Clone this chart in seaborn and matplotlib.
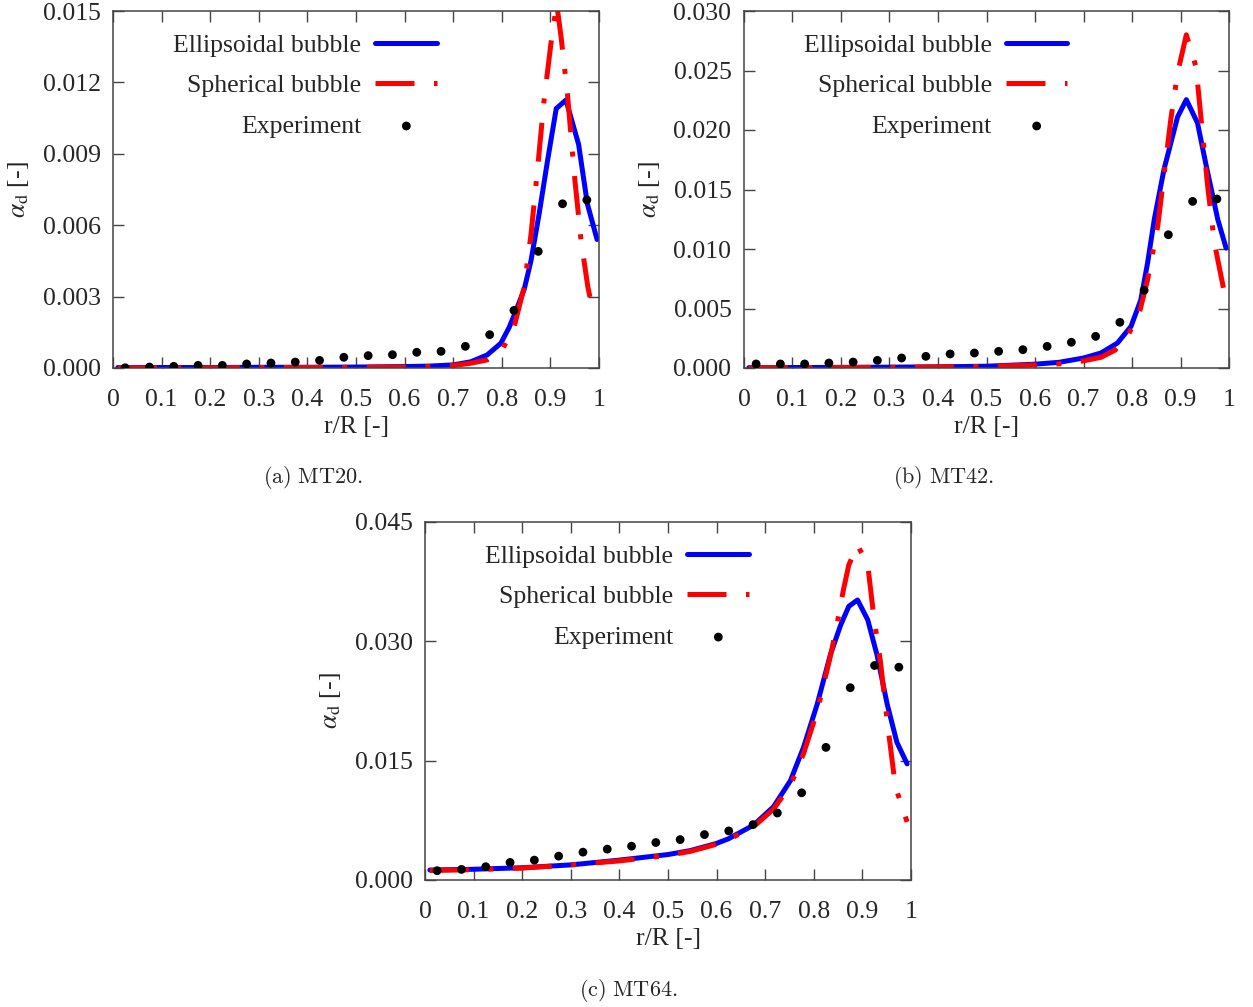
import numpy as np
import pandas as pd
import matplotlib
matplotlib.use("Agg")
import matplotlib.pyplot as plt
from matplotlib.font_manager import FontProperties
import seaborn as sns

# experiment radial positions (same for all three cases)
r_exp = [0.025, 0.075, 0.125, 0.175, 0.225, 0.275, 0.325, 0.375, 0.425, 0.475,
         0.525, 0.575, 0.625, 0.675, 0.725, 0.775, 0.825, 0.875, 0.925, 0.975]

# MT20
mt20_exp = [0.00001, 0.00004, 0.00007, 0.00011, 0.00011, 0.00017, 0.00021, 0.00025, 0.00032, 0.00045,
            0.00052, 0.00056, 0.00066, 0.00070, 0.00091, 0.00140, 0.00242, 0.00490, 0.00690, 0.00706]
mt20_ell_r = [0.01, 0.1, 0.2, 0.3, 0.4, 0.5, 0.6, 0.65, 0.7, 0.736, 0.77, 0.798, 0.815, 0.829,
              0.846, 0.86, 0.877, 0.894, 0.912, 0.932, 0.958, 0.976, 0.996]
mt20_ell = [0.00002, 0.00002, 0.00002, 0.00003, 0.00003, 0.00004, 0.00006, 0.00008, 0.00013, 0.00026,
            0.00055, 0.00104, 0.0017, 0.0024, 0.0033, 0.0045, 0.0065, 0.0087, 0.0109, 0.01126,
            0.0094, 0.0069, 0.0054]
mt20_sph_r = [0.01, 0.1, 0.2, 0.3, 0.4, 0.5, 0.6, 0.65, 0.7, 0.736, 0.77, 0.801, 0.825,
              0.846, 0.86, 0.874, 0.887, 0.901, 0.913, 0.922, 0.935, 0.949, 0.963, 0.977, 0.987]
mt20_sph = [0.00001, 0.00001, 0.00001, 0.00002, 0.00002, 0.00003, 0.00004, 0.00006, 0.0001, 0.0002,
            0.00034, 0.00078, 0.0017, 0.0034, 0.0056, 0.00846, 0.01126, 0.01362, 0.0153,
            0.0139, 0.01153, 0.00817, 0.00537, 0.00341, 0.00243]

# MT42
mt42_exp = [0.00034, 0.00034, 0.00034, 0.00042, 0.0005, 0.00064, 0.00084, 0.00098, 0.00118, 0.00126,
            0.0014, 0.00154, 0.00182, 0.00216, 0.00266, 0.00384, 0.00653, 0.0112, 0.0140, 0.0142]
mt42_ell_r = [0.01, 0.1, 0.2, 0.3, 0.4, 0.5, 0.6, 0.65, 0.7, 0.736, 0.77, 0.798, 0.818, 0.832,
              0.846, 0.866, 0.894, 0.912, 0.935, 0.952, 0.977, 0.994]
mt42_ell = [0.00003, 0.00004, 0.00005, 0.00007, 0.0001, 0.00015, 0.00032, 0.00048, 0.00084, 0.00126,
            0.0021, 0.0035, 0.0057, 0.0088, 0.0125, 0.0167, 0.0211, 0.02255, 0.0206, 0.0172,
            0.01246, 0.01008]
mt42_sph_r = [0.01, 0.1, 0.2, 0.3, 0.4, 0.5, 0.6, 0.65, 0.7, 0.736, 0.765, 0.791, 0.815, 0.832,
              0.853, 0.88, 0.894, 0.912, 0.932, 0.942, 0.956, 0.97, 0.994]
mt42_sph = [0.00002, 0.00003, 0.00004, 0.00006, 0.00009, 0.00014, 0.00025, 0.00035, 0.0006, 0.0009,
            0.0015, 0.0027, 0.0046, 0.0074, 0.0119, 0.0209, 0.0248, 0.0280, 0.0253, 0.0211,
            0.01526, 0.0105, 0.0056]

# MT64
mt64_exp = [0.00117, 0.00133, 0.00167, 0.00221, 0.0025, 0.0030, 0.0035, 0.00388, 0.00425, 0.00471,
            0.00508, 0.00571, 0.00617, 0.00696, 0.00842, 0.01096, 0.01667, 0.02417, 0.02696, 0.02675]
mt64_ell_r = [0.01, 0.1, 0.2, 0.3, 0.4, 0.5, 0.546, 0.6, 0.625, 0.676, 0.717, 0.752, 0.779, 0.807,
              0.834, 0.855, 0.872, 0.89, 0.911, 0.930, 0.951, 0.971, 0.992]
mt64_ell = [0.00125, 0.00135, 0.00154, 0.0019, 0.0025, 0.0032, 0.0037, 0.0046, 0.0052, 0.0069,
            0.0092, 0.0125, 0.0167, 0.0221, 0.0283, 0.0320, 0.0344, 0.0352, 0.0327, 0.0283,
            0.0221, 0.0173, 0.0146]
mt64_sph_r = [0.01, 0.1, 0.2, 0.3, 0.4, 0.5, 0.546, 0.6, 0.625, 0.676, 0.717, 0.752, 0.779, 0.807,
              0.834, 0.848, 0.861, 0.872, 0.89, 0.911, 0.923, 0.937, 0.951, 0.968, 0.992]
mt64_sph = [0.0012, 0.0013, 0.0015, 0.0019, 0.0024, 0.0031, 0.0036, 0.0045, 0.0051, 0.0067,
            0.0089, 0.0119, 0.0159, 0.0212, 0.0281, 0.0322, 0.0365, 0.0396, 0.0421, 0.0396,
            0.0333, 0.0275, 0.0200, 0.0117, 0.0073]

x_ticks = [0, 0.1, 0.2, 0.3, 0.4, 0.5, 0.6, 0.7, 0.8, 0.9, 1]
x_ticklabels = ["0", "0.1", "0.2", "0.3", "0.4", "0.5", "0.6", "0.7", "0.8", "0.9", "1"]

panels = [
    ("(a) MT20.", mt20_exp, mt20_ell_r, mt20_ell, mt20_sph_r, mt20_sph, 0.015, 0.003),
    ("(b) MT42.", mt42_exp, mt42_ell_r, mt42_ell, mt42_sph_r, mt42_sph, 0.030, 0.005),
    ("(c) MT64.", mt64_exp, mt64_ell_r, mt64_ell, mt64_sph_r, mt64_sph, 0.045, 0.015),
]

sns.set_theme(style="ticks")
plt.rcParams["font.family"] = ["Liberation Serif", "DejaVu Serif"]
plt.rcParams["mathtext.fontset"] = "stix"

W, H = 1253, 1007
fig = plt.figure(figsize=(W / 100, H / 100), dpi=100)

# axes boxes in pixels: left, top, right, bottom
boxes = [(113, 11, 599, 368), (744, 11, 1229, 368), (425, 522, 911, 880)]
caption_pos = [(313, 478), (944, 478), (628, 990)]

fs = 18.5
lw = 3.6
edge = "#444444"
for (cap, y_exp, r_ell, y_ell, r_sph, y_sph, ymax, ystep), (l, t, r, b), (cx, cy) in zip(panels, boxes, caption_pos):
    ax = fig.add_axes([l / W, 1 - b / H, (r - l) / W, (b - t) / H])

    df_ell = pd.DataFrame({"r": r_ell, "a": y_ell})
    df_sph = pd.DataFrame({"r": r_sph, "a": y_sph})
    df_exp = pd.DataFrame({"r": r_exp, "a": y_exp})

    sns.lineplot(data=df_ell, x="r", y="a", ax=ax, color="#0000ff", lw=lw,
                 label="Ellipsoidal bubble", sort=False)
    sns.lineplot(data=df_sph, x="r", y="a", ax=ax, color="#ff0000", lw=lw,
                 linestyle=(0, (7.8, 3.9, 1.0, 3.9)), dash_capstyle="butt",
                 label="Spherical bubble", sort=False)
    sns.scatterplot(data=df_exp, x="r", y="a", ax=ax, color="black", s=40,
                    edgecolor="none", label="Experiment", zorder=5)

    ax.set_xlim(0, 1)
    ax.set_ylim(0, ymax)
    ax.set_xticks(x_ticks)
    ax.set_xticklabels(x_ticklabels)
    yt = np.arange(0, ymax + ystep / 2, ystep)
    ax.set_yticks(yt)
    ax.set_yticklabels([f"{v:.3f}" for v in yt])
    ax.tick_params(direction="in", length=8, width=1, color=edge, labelsize=fs,
                   top=True, right=True)
    ax.tick_params(axis="x", pad=15)
    ax.tick_params(axis="y", pad=9)
    for s in ax.spines.values():
        s.set_color(edge)
        s.set_linewidth(1.1)
    ax.set_xlabel("r/R [-]", fontsize=fs, labelpad=4)
    ax.set_ylabel(r"$\alpha_\mathrm{d}$ [-]", fontsize=fs, labelpad=8)

    ax.legend(loc="upper right", bbox_to_anchor=(0.667, 0.936), frameon=False,
              markerfirst=False, fontsize=fs, handlelength=2.4, handletextpad=0.55,
              labelspacing=0.68, borderpad=0, borderaxespad=0)

    fig.text(cx / W, 1 - cy / H, r"$\mathrm{" + cap.replace(" ", r"\ ") + "}$",
             ha="center", va="center",
             fontproperties=FontProperties(size=16, math_fontfamily="cm"))

fig.savefig("out.png", dpi=100)
